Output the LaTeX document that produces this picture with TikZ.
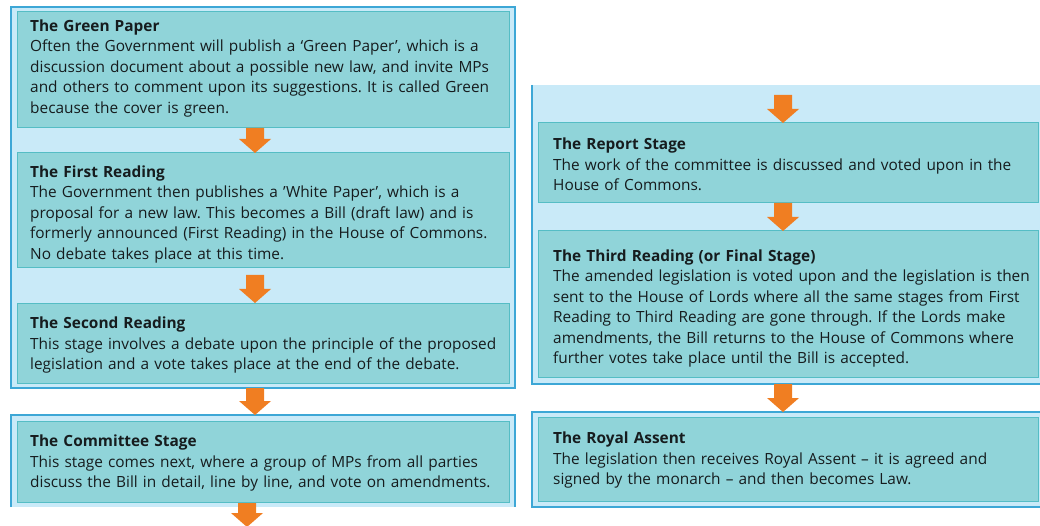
\documentclass[tikz,border=0pt]{standalone}
\usepackage{fontspec}
\setmainfont{Open Sans}
\usetikzlibrary{calc}
\frenchspacing
\definecolor{panelfill}{HTML}{C9EAF8}
\definecolor{panelline}{HTML}{3DA7D6}
\definecolor{boxfill}{HTML}{90D4D9}
\definecolor{boxline}{HTML}{55BDC5}
\definecolor{arrowc}{HTML}{F07E22}
\definecolor{txtc}{HTML}{161C1E}
\newcommand{\fatarrow}[3]{% x, target node, length
  \fill[arrowc] let \p1=(#2.north), \p2=(#1,0) in
    (\x2-9pt,\y1+#3pt) -- (\x2+9pt,\y1+#3pt) -- (\x2+9pt,\y1+14pt) -- (\x2+16pt,\y1+14pt)
    -- (\x2,\y1) -- (\x2-16pt,\y1+14pt) -- (\x2-9pt,\y1+14pt) -- cycle;}
\begin{document}
\begin{tikzpicture}[x=1pt,y=-1pt,
  box/.style={fill=boxfill,draw=boxline,line width=1pt,anchor=north west,inner sep=0pt,outer sep=0pt},
  lbox/.style={box,minimum width=492pt},
  rbox/.style={box,minimum width=500pt},
  txt/.style={anchor=base west,inner sep=0pt,text width=520pt,align=left,text=txtc,
    font=\fontsize{15.4pt}{20.5pt}\selectfont}]
\useasboundingbox (0,0) rectangle (1040,526);
% panels
\draw[fill=panelfill,draw=panelline,line width=1.2pt] (11,7) rectangle (515,388);
\fill[panelfill] (11,415) rectangle (515,507);
\draw[panelline,line width=1.2pt] (11,507) -- (11,415) -- (515,415) -- (515,507);
\fill[panelfill] (532,85) rectangle (1041,384);
\draw[panelline,line width=1.2pt] (532,85) -- (532,384) -- (1041,384);
\draw[fill=panelfill,draw=panelline,line width=1.2pt] (532,412) rectangle (1041,507);
% boxes
\node[lbox,minimum height=116pt] (green) at (17,12) {};
\node[lbox,minimum height=115pt] (first) at (17,153) {};
\node[lbox,minimum height=80pt] (second) at (17,303) {};
\node[lbox,minimum height=81pt] (committee) at (17,421) {};
\node[rbox,minimum height=80pt] (report) at (538,123) {};
\node[rbox,minimum height=146pt] (third) at (538,231) {};
\node[rbox,minimum height=84pt] (royal) at (538,417) {};
\coordinate (panelA) at (255,415);
\coordinate (panelB) at (783,412);
\coordinate (topR) at (783,123);
\coordinate (endL) at (247,527);
% texts
\node[txt] (tgreen) at (30,31.5) {\textbf{The Green Paper}\\
Often the Government will publish a ‘Green Paper’, which is a\\
discussion document about a possible new law, and invite MPs\\
and others to comment upon its suggestions. It is called Green\\
because the cover is green.};
\node[txt] (tfirst) at (30,177.5) {\textbf{The First Reading}\\
The Government then publishes a ’White Paper’, which is a\\
proposal for a new law. This becomes a Bill (draft law) and is\\
formerly announced (First Reading) in the House of Commons.\\
No debate takes place at this time.};
\node[txt] (tsecond) at (30,328.5) {\textbf{The Second Reading}\\
This stage involves a debate upon the principle of the proposed\\
legislation and a vote takes place at the end of the debate.};
\node[txt] (tcommittee) at (30,446.5) {\textbf{The Committee Stage}\\
This stage comes next, where a group of MPs from all parties\\
discuss the Bill in detail, line by line, and vote on amendments.};
\node[txt] (treport) at (553,150) {\textbf{The Report Stage}\\
The work of the committee is discussed and voted upon in the\\
House of Commons.};
\node[txt] (tthird) at (553,261.5) {\textbf{The Third Reading (or Final Stage)}\\
The amended legislation is voted upon and the legislation is then\\
sent to the House of Lords where all the same stages from First\\
Reading to Third Reading are gone through. If the Lords make\\
amendments, the Bill returns to the House of Commons where\\
further votes take place until the Bill is accepted.};
\node[txt] (troyal) at (553,443.5) {\textbf{The Royal Assent}\\
The legislation then receives Royal Assent -- it is agreed and\\
signed by the monarch -- and then becomes Law.};
% arrows
\fatarrow{255}{first}{25}
\fatarrow{255}{second}{28}
\fatarrow{255}{panelA}{27}
\fatarrow{247}{endL}{24}
\fatarrow{783}{topR}{28}
\fatarrow{783}{third}{28}
\fatarrow{783}{panelB}{28}
\end{tikzpicture}
\end{document}
